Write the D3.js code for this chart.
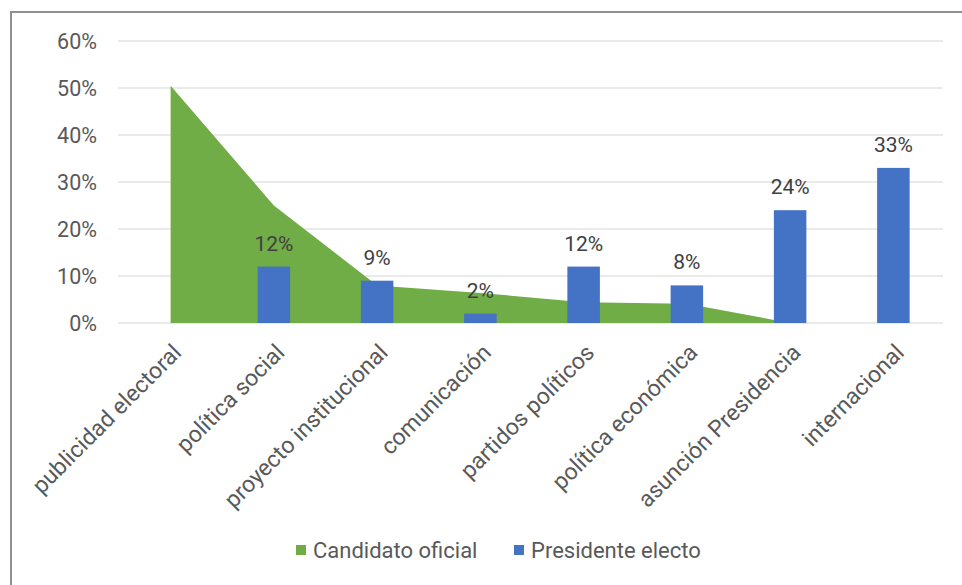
<!DOCTYPE html>
<html>
<head>
<meta charset="utf-8">
<script src="https://cdn.jsdelivr.net/npm/d3@7/dist/d3.min.js"></script>
<style>
  html, body { margin: 0; padding: 0; background: #fff; }
  svg { display: block; font-family: Roboto, "Noto Sans", sans-serif; }
</style>
</head>
<body>
<svg id="chart" width="962" height="585"></svg>
<script>
// Topic categories
const categories = [
  "publicidad electoral", "política social", "proyecto institucional", "comunicación",
  "partidos políticos", "política económica", "asunción Presidencia", "internacional"
];
// Series: share of coverage per topic
const candidatoOficial = [0.505, 0.25, 0.08, 0.064, 0.044, 0.041, 0, 0];
const presidenteElecto = [0, 0.12, 0.09, 0.02, 0.12, 0.08, 0.24, 0.33];
// Y axis ticks
const yTicks = [0, 0.1, 0.2, 0.3, 0.4, 0.5, 0.6];
const seriesNames = ["Candidato oficial", "Presidente electo"];

const GREEN = "#70ad47", BLUE = "#4472c4";
const svg = d3.select("#chart");

// outer frame
svg.append("rect")
  .attr("x", 11).attr("y", 12).attr("width", 1000).attr("height", 700)
  .attr("fill", "none").attr("stroke", "#8f8f8f").attr("stroke-width", 2);

const x = d3.scaleBand().domain(categories).range([119, 945]);
const y = d3.scaleLinear().domain([0, 0.6]).range([323, 41]);
const cx = c => x(c) + x.bandwidth() / 2;

// horizontal gridlines
svg.append("g").selectAll("line").data(yTicks).join("line")
  .attr("x1", 118).attr("x2", 943)
  .attr("y1", d => y(d)).attr("y2", d => y(d))
  .attr("stroke", "#e3e3e3").attr("stroke-width", 1.5);

// y axis labels
const yAxis = d3.axisLeft(y).tickValues(yTicks).tickFormat(d3.format(".0%")).tickSize(0).tickPadding(0);
const yg = svg.append("g").attr("transform", "translate(97,0)").call(yAxis);
yg.select(".domain").remove();
yg.selectAll("text")
  .attr("font-family", "Roboto, 'Noto Sans', sans-serif")
  .attr("font-size", 21.5).attr("fill", "#595959").attr("dy", "0.35em");

// area series
const area = d3.area()
  .x((d, i) => cx(categories[i]))
  .y0(y(0))
  .y1(d => y(d));
svg.append("path").datum(candidatoOficial)
  .attr("d", area).attr("fill", GREEN);

// bar series
const barW = 32.5;
svg.append("g").selectAll("rect").data(presidenteElecto).join("rect")
  .attr("x", (d, i) => cx(categories[i]) - barW / 2)
  .attr("y", d => y(d))
  .attr("width", barW)
  .attr("height", d => y(0) - y(d))
  .attr("fill", BLUE);

// bar value labels
svg.append("g").selectAll("text")
  .data(presidenteElecto.map((v, i) => ({ v, c: categories[i] })).filter(d => d.v > 0))
  .join("text")
  .attr("x", d => cx(d.c))
  .attr("y", d => y(d.v) - 16)
  .attr("text-anchor", "middle")
  .attr("font-size", 21).attr("fill", "#404040")
  .text(d => d3.format(".0%")(d.v));

// category labels, rotated
const xAxis = d3.axisBottom(x).tickSize(0).tickPadding(0);
const xg = svg.append("g").attr("transform", "translate(0,323)").call(xAxis);
xg.select(".domain").remove();
xg.selectAll("text")
  .attr("font-family", "Roboto, 'Noto Sans', sans-serif")
  .attr("font-size", 23).attr("fill", "#595959")
  .attr("text-anchor", "end")
  .attr("dy", 0)
  .attr("transform", "translate(12,31) rotate(-45)");

// legend
const legend = svg.append("g");
const legendItems = [
  { name: seriesNames[0], color: GREEN, x: 296 },
  { name: seriesNames[1], color: BLUE, x: 514 }
];
legendItems.forEach(it => {
  legend.append("rect").attr("x", it.x).attr("y", 545).attr("width", 10).attr("height", 10).attr("fill", it.color);
  legend.append("text").attr("x", it.x + 17).attr("y", 558)
    .attr("font-size", 22).attr("fill", "#595959").text(it.name);
});
</script>
</body>
</html>
